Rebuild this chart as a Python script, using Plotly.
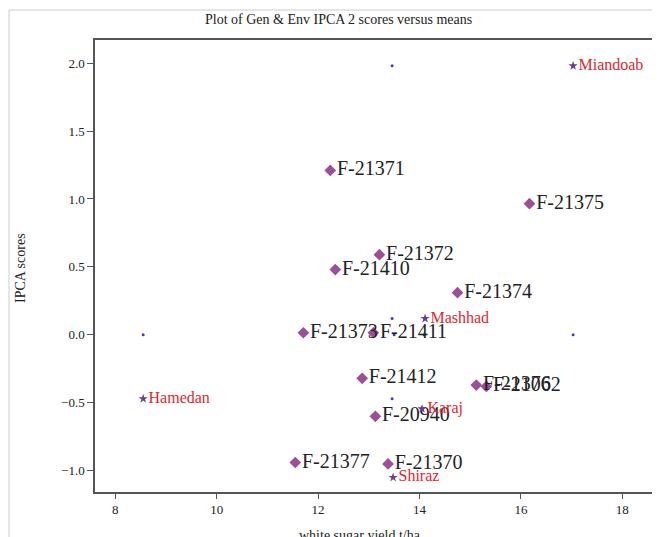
import plotly.graph_objects as go

# Genotypes
gen_names = ["F-21371", "F-21375", "F-21372", "F-21410", "F-21374", "F-21373",
             "F-21411", "F-21412", "F-21376", "F-21062", "F-20940", "F-21377", "F-21370"]
gen_mean = [12.24, 16.17, 13.21, 12.34, 14.75, 11.71, 13.09, 12.87, 15.12, 15.32, 13.13, 11.55, 13.38]
gen_ipca = [1.21, 0.965, 0.59, 0.48, 0.31, 0.015, 0.015, -0.32, -0.37, -0.38, -0.60, -0.94, -0.95]

# Environments
env_names = ["Miandoab", "Mashhad", "Hamedan", "Karaj", "Shiraz"]
env_mean = [17.03, 14.11, 8.55, 14.05, 13.48]
env_ipca = [1.98, 0.12, -0.47, -0.545, -1.05]

# Reference dots
ref_x = [8.55, 17.03, 13.46, 13.46, 13.46, 13.50, 14.09]
ref_y = [0.0, 0.0, 1.98, 0.12, -0.47, 0.0, 0.0]

xticks = [8, 10, 12, 14, 16, 18]
yticks = [-1.0, -0.5, 0.0, 0.5, 1.0, 1.5, 2.0]

serif = "Liberation Serif, Times New Roman, serif"

# plot area on screen (page body has an 8px margin)
L, R, T, B = 95, 668, 40, 492
W, H = R - L, B - T


def px(sx):
    return (sx - L) / W


def py(sy):
    return (B - sy) / H


fig = go.Figure()
fig.add_trace(go.Scatter(
    x=ref_x, y=ref_y, mode="markers",
    marker=dict(size=3, color="#3a3ac8"), showlegend=False, hoverinfo="skip"))
fig.add_trace(go.Scatter(
    x=gen_mean, y=gen_ipca, mode="markers+text", text=gen_names,
    textposition="middle right", cliponaxis=False,
    textfont=dict(family=serif, size=20, color="#222222"),
    marker=dict(symbol="diamond", size=9, color="#9c4f98"), showlegend=False))
fig.add_trace(go.Scatter(
    x=env_mean, y=env_ipca, mode="markers+text", text=env_names,
    textposition="middle right", cliponaxis=False,
    textfont=dict(family=serif, size=16, color="#e3262f"),
    marker=dict(symbol="star", size=7, color="#6a3f8e"), showlegend=False))

fig.update_layout(
    width=660, height=537,
    margin=dict(l=L - 8, r=0, t=T - 8, b=537 - (B - 8)),
    paper_bgcolor="white", plot_bgcolor="white",
    font=dict(family=serif, size=12, color="#222222"),
    xaxis=dict(range=[7.6, 7.6 + W / 50.7], tickvals=xticks, ticktext=[str(v) for v in xticks],
               showgrid=False, zeroline=False, showline=True, mirror=True, automargin=False,
               linecolor="#555555", linewidth=1.5, ticks="outside", ticklen=5,
               tickcolor="#555555", tickfont=dict(family=serif, size=13)),
    yaxis=dict(range=[-1.157, 2.17], tickvals=yticks, tickformat=".1f", automargin=False,
               showgrid=False, zeroline=False, showline=True,
               linecolor="#555555", linewidth=1.5, ticks="outside", ticklen=6,
               tickcolor="#555555", tickfont=dict(family=serif, size=13)),
    annotations=[
        dict(text="Plot of Gen & Env IPCA 2 scores versus means", xref="paper", yref="paper",
             x=px(338), y=py(20), xanchor="center", yanchor="middle", showarrow=False,
             font=dict(family=serif, size=14, color="#222222")),
        dict(text="IPCA scores", xref="paper", yref="paper", textangle=-90,
             x=px(20), y=py(268), xanchor="center", yanchor="middle", showarrow=False,
             font=dict(family=serif, size=14, color="#222222")),
        dict(text="white sugar yield t/ha", xref="paper", yref="paper",
             x=px(360), y=py(535), xanchor="center", yanchor="middle", showarrow=False,
             font=dict(family=serif, size=14, color="#222222")),
    ],
    shapes=[
        dict(type="line", xref="paper", yref="paper", x0=px(9), x1=1.0,
             y0=py(10), y1=py(10), line=dict(color="#cccccc", width=1)),
        dict(type="line", xref="paper", yref="paper", x0=px(9), x1=px(9),
             y0=py(10), y1=py(545), line=dict(color="#cccccc", width=1)),
    ],
)

fig.write_html("out.html")
